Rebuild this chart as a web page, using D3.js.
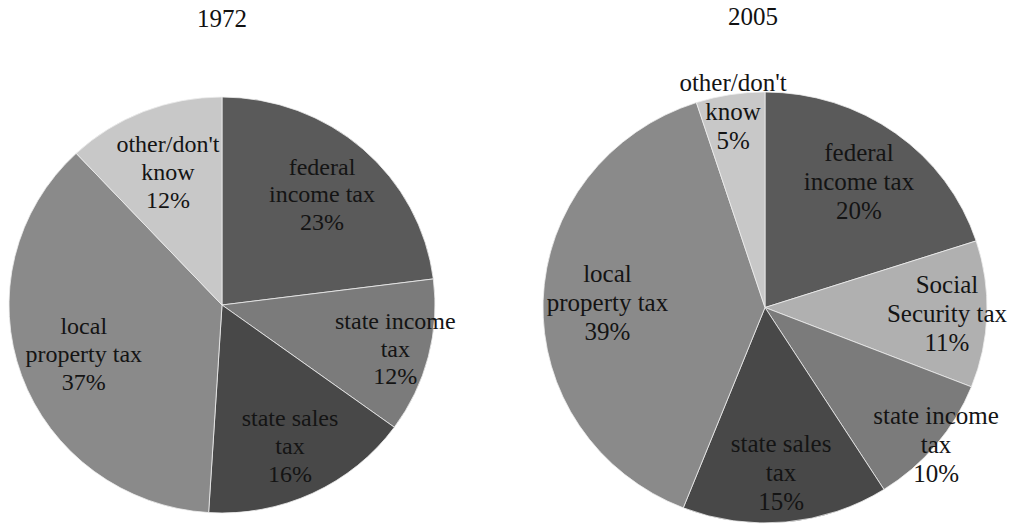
<!DOCTYPE html>
<html>
<head>
<meta charset="utf-8">
<script src="https://cdn.jsdelivr.net/npm/d3@7"></script>
<style>
  body { margin: 0; background: #fff; }
</style>
</head>
<body>
<svg width="1009" height="527"></svg>
<script>
// data
const labels1972 = [["federal", "income tax"], ["state income", "tax"], ["state sales", "tax"], ["local", "property tax"], ["other/don't", "know"]];
const values1972 = [23, 12, 16, 37, 12];
const labels2005 = [["federal", "income tax"], ["Social", "Security tax"], ["state income", "tax"], ["state sales", "tax"], ["local", "property tax"], ["other/don't", "know"]];
const values2005 = [20, 11, 10, 15, 39, 5];

// greys per slice
const colors1972 = ["#5a5a5a", "#7b7b7b", "#484848", "#8a8a8a", "#c8c8c8"];
const colors2005 = ["#5a5a5a", "#b0b0b0", "#7b7b7b", "#484848", "#8a8a8a", "#c8c8c8"];
// how far out (fraction of radius) each label sits
const labelRadius1972 = [0.71, 0.84, 0.75, 0.69, 0.69];
const labelRadius2005 = [0.72, 0.82, 1.0, 0.77, 0.71, 0.92];

const serif = "'Liberation Serif', 'Times New Roman', 'DejaVu Serif', serif";
const svg = d3.select("svg");

function drawPie(opts) {
    const { title, titleX, titleY, cx, cy, rx, ry, values, labels, colors, radii, fontSize } = opts;

    svg.append("text")
        .attr("x", titleX)
        .attr("y", titleY)
        .attr("text-anchor", "middle")
        .style("font-family", serif)
        .style("font-size", "25px")
        .attr("fill", "#111")
        .text(title);

    const pie = d3.pie().sort(null).value(d => d)(values);
    const arc = d3.arc().innerRadius(0).outerRadius(rx);

    // pie drawn as a circle, squashed a little vertically like the scan
    const g = svg.append("g")
        .attr("transform", `translate(${cx},${cy}) scale(1,${ry / rx})`);

    g.selectAll("path")
        .data(pie)
        .enter().append("path")
        .attr("d", arc)
        .attr("fill", (d, i) => colors[i])
        .attr("stroke", "#eee")
        .attr("stroke-width", 0.8);

    const lg = svg.append("g").attr("transform", `translate(${cx},${cy})`);
    const lineH = fontSize * 1.16;

    pie.forEach((d, i) => {
        const a = (d.startAngle + d.endAngle) / 2;
        const x = Math.sin(a) * rx * radii[i];
        const y = -Math.cos(a) * ry * radii[i];
        const lines = labels[i].concat([d.data + "%"]);
        const t = lg.append("text")
            .attr("text-anchor", "middle")
            .style("font-family", serif)
            .style("font-size", fontSize + "px")
            .attr("fill", "#141414");
        lines.forEach((s, k) => {
            t.append("tspan")
                .attr("x", x)
                .attr("y", y + (k - 1) * lineH + fontSize * 0.34)
                .text(s);
        });
    });
}

drawPie({
    title: "1972", titleX: 222, titleY: 27,
    cx: 222, cy: 305, rx: 213, ry: 208,
    values: values1972, labels: labels1972, colors: colors1972,
    radii: labelRadius1972, fontSize: 24
});

drawPie({
    title: "2005", titleX: 753, titleY: 25,
    cx: 765, cy: 307.5, rx: 222, ry: 215.5,
    values: values2005, labels: labels2005, colors: colors2005,
    radii: labelRadius2005, fontSize: 25
});
</script>
</body>
</html>
